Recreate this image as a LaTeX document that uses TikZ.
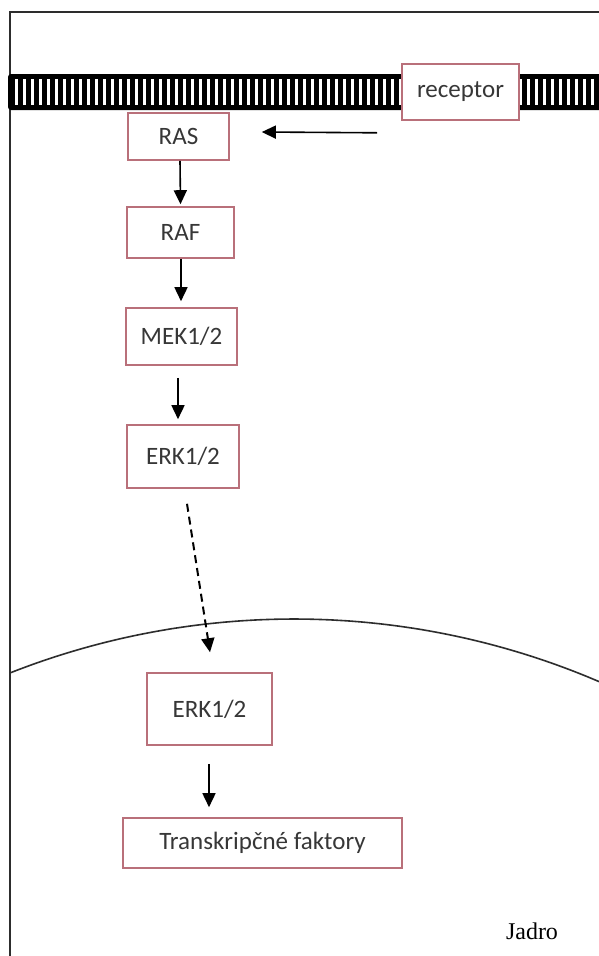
\documentclass[tikz,border=0pt]{standalone}
\usepackage{fontspec}
\setmainfont{Carlito}
\newfontfamily\timesfont{Liberation Serif}
\usetikzlibrary{arrows.meta,calc}
\definecolor{boxred}{RGB}{185,112,122}
\definecolor{txtgray}{RGB}{55,55,55}
\definecolor{framegray}{RGB}{45,45,45}
\begin{document}
\begin{tikzpicture}[x=1pt,y=-1pt,
  box/.style={draw=boxred, line width=1.6pt, fill=white, inner sep=0pt, text=txtgray,
              font=\fontsize{25}{29}\selectfont},
  arr/.style={line width=1.6pt, -{Triangle[length=14pt,width=13pt]}},
  dasharr/.style={arr, line width=2pt, dash pattern=on 8pt off 5pt},
]
\useasboundingbox (0,0) rectangle (599,956);
\fill[white] (0,0) rectangle (599,956);

% frame
\draw[line width=2.2pt, framegray] (599,12) -- (10,12) -- (10,956);

% membrane
\fill[black, rounded corners=3pt] (8,74) rectangle (603,110);
\foreach \x in {15,23,...,599} \fill[white] (\x,79) rectangle ++(3.2,26);

% nucleus envelope
\draw[line width=1.6pt, framegray] plot[domain=-111.5:-66.8, samples=80, smooth]
  ({294+775*cos(\x)},{1394+775*sin(\x)});

% boxes
\node[box, minimum width=117pt, minimum height=56pt] (rec) at (460.5,92) {receptor};
\node[box, minimum width=101pt, minimum height=47pt] (ras) at (178.5,136.5) {RAS};
\node[box, minimum width=107pt, minimum height=51pt] (raf) at (180.5,232.5) {RAF};
\node[box, minimum width=111pt, minimum height=57pt] (mek) at (181.5,336.5) {MEK1/2};
\node[box, minimum width=112pt, minimum height=63pt] (erk) at (183,456.5) {ERK1/2};
\node[box, minimum width=125pt, minimum height=72pt] (erkn) at (209.5,709) {ERK1/2};
\node[box, minimum width=279pt, minimum height=50pt] (tf) at (262.5,843) {Transkripčné faktory};
\node[font=\timesfont\fontsize{24}{28}\selectfont, text=black, inner sep=0pt] (jadro) at (532,931) {Jadro};

% connectors
\draw[arr] ($(rec.south west)+(-24,12)$) -- ($(ras.east)+(32,-4.5)$);
\draw[arr] ($(ras.south)+(1.5,0)$) -- ($(raf.north)+(0,-2)$);
\draw[arr] ($(raf.south)+(0.5,0)$) -- ($(mek.north)+(-0.5,-6)$);
\draw[arr] ($(mek.south)+(-3.5,12)$) -- ($(erk.north)+(-5,-5)$);
\draw[dasharr] ($(erk.south)+(4,15)$) -- ($(erkn.north)+(0.5,-20)$);
\draw[arr] ($(erkn.south)+(-0.5,18)$) -- ($(tf.north)+(-53.5,-10)$);
\end{tikzpicture}
\end{document}
